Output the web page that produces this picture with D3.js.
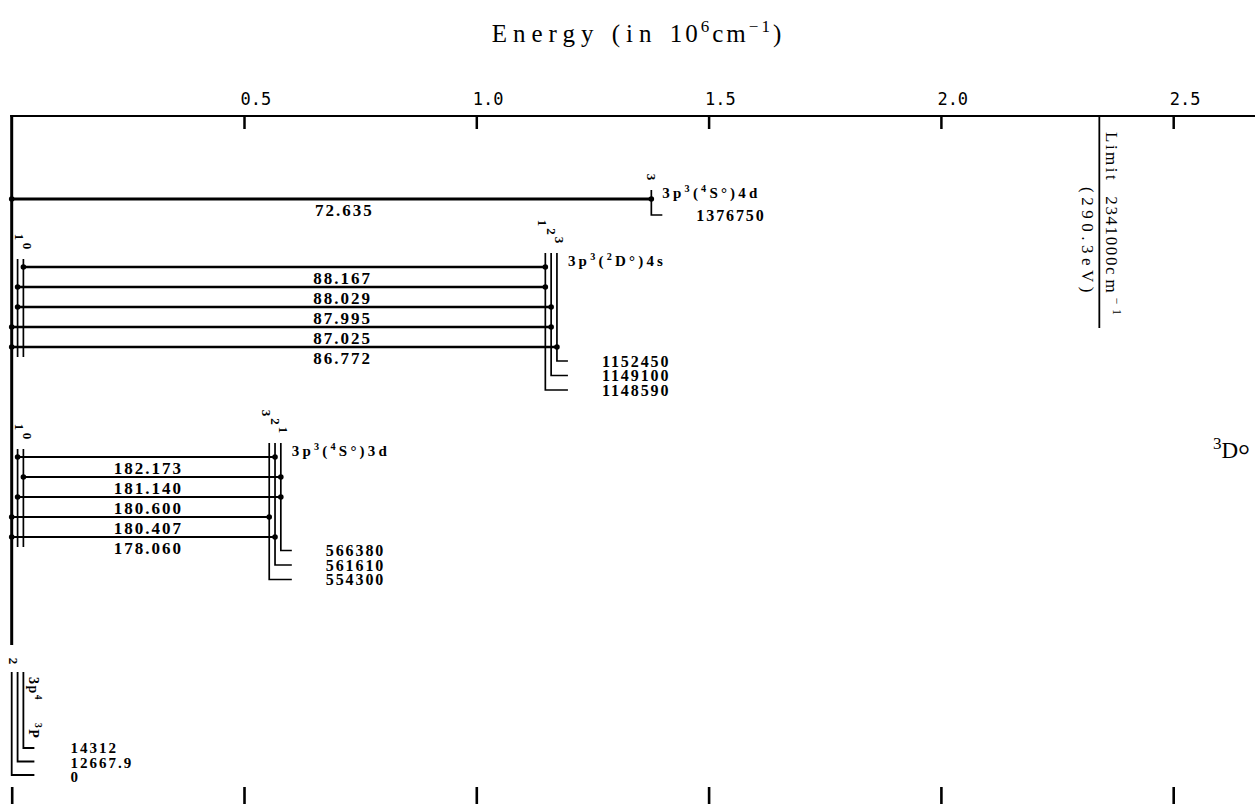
<!DOCTYPE html>
<html><head><meta charset="utf-8">
<script src="https://cdn.jsdelivr.net/npm/d3@7"></script>
<style>
body{margin:0;background:#fff;}
svg{display:block;}
</style></head><body>
<svg id="chart" width="1255" height="804"></svg>
<script>
// ---------------- data ----------------
const axisTicks = [0.5, 1.0, 1.5, 2.0, 2.5];          // in 10^6 cm^-1
const axisTickLabels = ["0.5", "1.0", "1.5", "2.0", "2.5"];
const limitEnergy = 2341000;                           // cm^-1
const limitEv = "(290.3eV)";

// ground term 3p4 3P
const groundJ = [2, 1, 0];
const groundE = [0, 12667.9, 14312];

// upper term 3p3(4S°)4d
const up4dJ = [3];
const up4dE = [1376750];
const tr4dWl = [72.635];
const tr4dUpJ = [3];
const tr4dLoJ = [2];

// upper term 3p3(2D°)4s
const up4sJ = [1, 2, 3];
const up4sE = [1148590, 1149100, 1152450];
const tr4sWl = [88.167, 88.029, 87.995, 87.025, 86.772];
const tr4sUpJ = [1, 1, 2, 2, 3];
const tr4sLoJ = [0, 1, 1, 2, 2];

// upper term 3p3(4S°)3d
const up3dJ = [3, 2, 1];
const up3dE = [554300, 561610, 566380];
const tr3dWl = [182.173, 181.140, 180.600, 180.407, 178.060];
const tr3dUpJ = [2, 1, 1, 3, 2];
const tr3dLoJ = [1, 0, 1, 2, 2];

// configuration labels (text, kind)
const cfg4d = [["3p","n"],["3","sup"],["(","n"],["4","sup"],["S°)4d","n"]];
const cfg4s = [["3p","n"],["3","sup"],["(","n"],["2","sup"],["D°)4s","n"]];
const cfg3d = [["3p","n"],["3","sup"],["(","n"],["4","sup"],["S°)3d","n"]];
const cfgGround = [["3p","n"],["4","sup"]];
const termGround = [["3","sup"],["P","n"]];

// ---------------- layout ----------------
const W = 1255, H = 804;
const SERIF = "'Liberation Serif','Times New Roman',serif";
const MONO = "'DejaVu Sans Mono',monospace";
const svg = d3.select("#chart");
const x = d3.scaleLinear().domain([0, 2.5e6]).range([11.7, 1173.2]);
const axisY = 116;
const fmtWl = d3.format(".3f");

function rich(sel, parts, size, supScale = 0.68, supRise = 0.42) {
  let shifted = 0;
  parts.forEach(([t, kind]) => {
    const ts = sel.append("tspan").text(t);
    const target = kind === "sup" ? -supRise * size : 0;
    const dy = target - shifted;
    if (dy) ts.attr("dy", dy);
    shifted = target;
    if (kind === "sup") ts.attr("font-size", size * supScale);
  });
}

function spreadX(Es, gap) {
  const order = d3.range(Es.length).sort((a, b) => Es[a] - Es[b]);
  const xs = []; let prev = -Infinity;
  order.forEach(i => { const v = Math.max(x(Es[i]), prev + gap); xs[i] = v; prev = v; });
  return xs;
}
function rankDesc(Es) {
  const order = d3.range(Es.length).sort((a, b) => Es[b] - Es[a]);
  const r = []; order.forEach((i, k) => r[i] = k); return r;
}
function rotLabel(g, cx, cy, txt, size) {
  g.append("text")
    .attr("transform", `translate(${cx},${cy}) rotate(90)`)
    .attr("text-anchor", "middle").attr("dominant-baseline", "central")
    .attr("font-family", SERIF).attr("font-weight", "bold").attr("font-size", size)
    .text(txt);
}

// ---------- title ----------
const title = svg.append("text").attr("x", 638).attr("y", 42)
  .attr("text-anchor", "middle").attr("font-family", SERIF).attr("font-size", 25);
title.append("tspan").attr("letter-spacing", 6).text("Energy (in ");
const tRest = title.append("tspan").attr("letter-spacing", 3);
rich(tRest, [["10","n"],["6","sup"],["cm","n"],["−1","sup"],[")","n"]], 25);

// ---------- top axis ----------
const topAxis = d3.axisTop(x)
  .tickValues(axisTicks.map(v => v * 1e6))
  .tickFormat((d, i) => axisTickLabels[i])
  .tickSize(-13).tickSizeOuter(0).tickPadding(11);
const gTop = svg.append("g").attr("transform", `translate(0,${axisY})`).call(topAxis);
gTop.select(".domain").remove();
gTop.selectAll(".tick line").attr("stroke", "#000").attr("stroke-width", 2.5);
gTop.selectAll(".tick text").attr("font-family", MONO).attr("font-size", 17)
  .attr("fill", "#000").attr("text-anchor", "start").attr("dx", -4);
svg.append("line").attr("x1", x(0) - 1.5).attr("x2", W).attr("y1", axisY).attr("y2", axisY)
  .attr("stroke", "#000").attr("stroke-width", 2.2);

// ---------- bottom ticks ----------
const botAxis = d3.axisTop(x).tickValues([0, ...axisTicks.map(v => v * 1e6)])
  .tickFormat("").tickSize(17).tickSizeOuter(0);
const gBot = svg.append("g").attr("transform", `translate(0,${H})`).call(botAxis);
gBot.select(".domain").remove();
gBot.selectAll(".tick line").attr("stroke", "#000").attr("stroke-width", 2.6);

// ---------- ground term ----------
const groundTop = 672, groundBottom0 = 748, groundStep = 13.5, groundLabelStep = 14.5;
const gx = spreadX(groundE, 5.8);
const gRank = rankDesc(groundE);
const gMax = d3.max(gx);

// left vertical axis
svg.append("line").attr("x1", x(0)).attr("x2", x(0)).attr("y1", axisY - 1).attr("y2", groundTop - 27)
  .attr("stroke", "#000").attr("stroke-width", 3);

const gGround = svg.append("g");
groundE.forEach((E, i) => {
  const yb = groundBottom0 + groundStep * gRank[i];
  gGround.append("path")
    .attr("d", `M${gx[i]},${groundTop}V${yb}H${gMax + 11}`)
    .attr("fill", "none").attr("stroke", "#000").attr("stroke-width", 1.8);
  gGround.append("text").attr("x", gMax + 47).attr("y", groundBottom0 + groundLabelStep * gRank[i] + 5)
    .attr("font-family", SERIF).attr("font-weight", "bold").attr("font-size", 15)
    .attr("letter-spacing", 2).text(String(E));
});
rotLabel(gGround, gx[groundJ.indexOf(2)] + 1.5, groundTop - 11, String(2), 13);
const gl = gGround.append("text")
  .attr("transform", `translate(${gMax + 5.5},${groundTop + 5}) rotate(90)`)
  .attr("font-family", SERIF).attr("font-weight", "bold").attr("font-size", 14)
  .attr("letter-spacing", 1.5);
rich(gl, cfgGround, 14);
const gl2 = gGround.append("text")
  .attr("transform", `translate(${gMax + 5.5},${groundTop + 51}) rotate(90)`)
  .attr("font-family", SERIF).attr("font-weight", "bold").attr("font-size", 14)
  .attr("letter-spacing", 1.5);
rich(gl2, termGround, 14);

// ---------- upper terms & transitions ----------
const groups = [
  {J: up4dJ, E: up4dE, wl: tr4dWl, up: tr4dUpJ, lo: tr4dLoJ, cfg: cfg4d,
   firstY: 199, topPad: 9, bottomPad: 16, labelFrac: 0.52, lw: 3},
  {J: up4sJ, E: up4sE, wl: tr4sWl, up: tr4sUpJ, lo: tr4sLoJ, cfg: cfg4s,
   firstY: 267, topPad: 14, bottomPad: 14, labelFrac: 0.607, lw: 2.4},
  {J: up3dJ, E: up3dE, wl: tr3dWl, up: tr3dUpJ, lo: tr3dLoJ, cfg: cfg3d,
   firstY: 457, topPad: 14, bottomPad: 13.5, labelFrac: 0.508, lw: 2.2}
];
const rowStep = 20, levelStep = 14.5;

groups.forEach(G => {
  const g = svg.append("g");
  const n = G.wl.length;
  const y = d3.scalePoint().domain(d3.range(n)).range([G.firstY, G.firstY + rowStep * (n - 1)]);
  const lastY = y(n - 1);
  const ux = spreadX(G.E, 5.8);
  const uRank = rankDesc(G.E);
  const uMax = d3.max(ux);
  const topY = G.firstY - G.topPad;
  const xOrder = d3.range(G.E.length).sort((a, b) => ux[a] - ux[b]);
  const m = G.E.length;

  // upper J levels
  G.E.forEach((E, i) => {
    const yb = lastY + G.bottomPad + levelStep * uRank[i];
    g.append("path").attr("d", `M${ux[i]},${topY}V${yb}H${uMax + 11}`)
      .attr("fill", "none").attr("stroke", "#000").attr("stroke-width", 1.7);
    g.append("text").attr("x", uMax + 45).attr("y", yb + 5.5)
      .attr("font-family", SERIF).attr("font-weight", "bold").attr("font-size", 16)
      .attr("letter-spacing", 1.9).text(String(E));
    const k = xOrder.indexOf(i);
    rotLabel(g, ux[i] + (k - (m - 1) / 2) * 2.5, topY - 13 - 8.5 * (m - 1 - k), String(G.J[i]), 13);
  });

  // lower J segments (non-axis)
  const loUsed = Array.from(new Set(G.lo)).filter(j => groundE[groundJ.indexOf(j)] > 0)
    .sort((a, b) => gx[groundJ.indexOf(a)] - gx[groundJ.indexOf(b)]);
  loUsed.forEach((j, k) => {
    const lx = gx[groundJ.indexOf(j)];
    const t0 = G.firstY - 8;
    g.append("line").attr("x1", lx).attr("x2", lx).attr("y1", t0).attr("y2", lastY + 10)
      .attr("stroke", "#000").attr("stroke-width", 1.7);
    rotLabel(g, lx + 2 + 2.5 * k, t0 - 22 + 9 * k, String(j), 13);
  });

  // transitions
  const labelCx = x(0) + G.labelFrac * (uMax - x(0));
  G.wl.forEach((w, i) => {
    const x1 = gx[groundJ.indexOf(G.lo[i])];
    const x2 = ux[G.J.indexOf(G.up[i])];
    const yy = y(i);
    g.append("line").attr("x1", x1).attr("x2", x2).attr("y1", yy).attr("y2", yy)
      .attr("stroke", "#000").attr("stroke-width", G.lw);
    [x1, x2].forEach(cx => g.append("circle").attr("cx", cx).attr("cy", yy).attr("r", 2.8).attr("fill", "#000"));
    g.append("text").attr("x", labelCx).attr("y", yy + 16.5).attr("text-anchor", "middle")
      .attr("font-family", SERIF).attr("font-weight", "bold").attr("font-size", 17)
      .attr("letter-spacing", 2).text(fmtWl(w));
  });

  // configuration label
  const c = g.append("text").attr("x", uMax + 11).attr("y", G.firstY - 1)
    .attr("font-family", SERIF).attr("font-weight", "bold").attr("font-size", 15)
    .attr("letter-spacing", 3.2);
  rich(c, G.cfg, 15);
});

// ---------- ionisation limit ----------
const lx = x(limitEnergy);
svg.append("line").attr("x1", lx).attr("x2", lx).attr("y1", axisY).attr("y2", 328)
  .attr("stroke", "#000").attr("stroke-width", 1.8);
const lt = svg.append("text").attr("transform", `translate(${lx + 7},132) rotate(90)`)
  .attr("font-family", SERIF).attr("font-size", 17);
lt.append("tspan").attr("letter-spacing", 2.5).text("Limit");
lt.append("tspan").attr("dx", 14).attr("letter-spacing", 1.6).text(String(limitEnergy));
const lt2 = lt.append("tspan").attr("letter-spacing", 5);
rich(lt2, [["cm","n"],["−1","sup"]], 17);
svg.append("text").attr("transform", `translate(${lx - 17},187) rotate(90)`)
  .attr("font-family", SERIF).attr("font-size", 17).attr("letter-spacing", 4.5)
  .text(limitEv);

// ---------- term symbol ----------
const ts = svg.append("text").attr("x", 1250).attr("y", 458).attr("text-anchor", "end")
  .attr("font-family", SERIF).attr("font-size", 23);
ts.append("tspan").attr("font-size", 17).attr("dy", -9).text("3");
ts.append("tspan").attr("dy", 9).text("D");
ts.append("tspan").attr("font-size", 30).attr("dy", 7).text("°");
</script>
</body></html>
